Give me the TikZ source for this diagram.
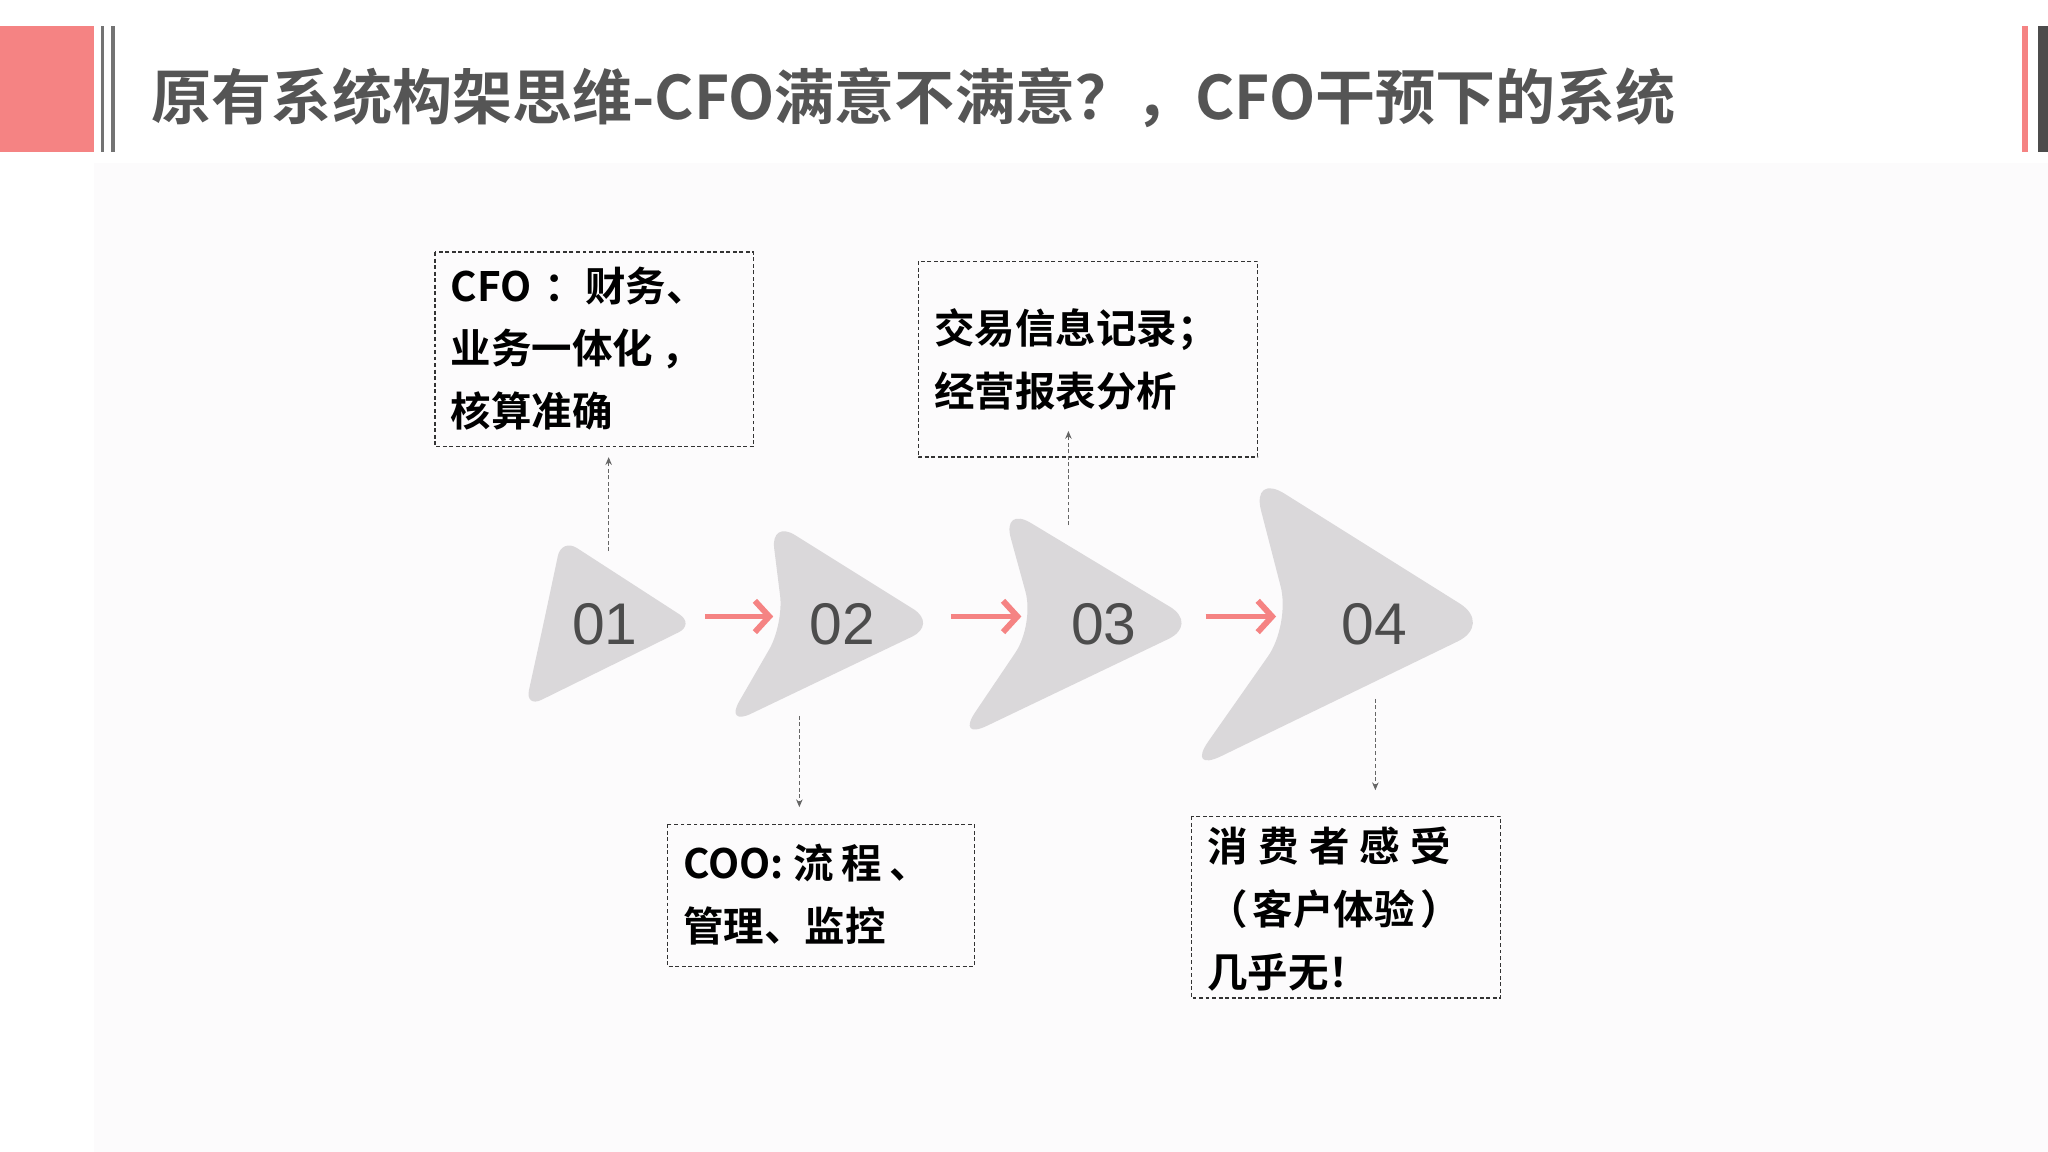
\documentclass[tikz,border=0pt]{standalone}
\usepackage{fontspec}
\setmainfont{Noto Sans CJK SC}[BoldFont={* Bold}]
\newfontfamily\numf{Liberation Sans}
\usetikzlibrary{arrows.meta}
\definecolor{pinkc}{HTML}{F58383}
\definecolor{titlec}{HTML}{555555}
\definecolor{chev}{HTML}{DAD8DA}
\definecolor{bgc}{HTML}{FCFBFC}
\begin{document}
\begin{tikzpicture}[x=1pt,y=-1pt,
  ch/.style={fill=chev,draw=none,rounded corners=14pt},
  num/.style={font=\numf\fontsize{45}{45}\selectfont,text=titlec!90!black},
  box/.style={draw=black!80,dashed,line width=1pt,dash pattern=on 3pt off 2pt},
  bt/.style={font=\bfseries\fontsize{31}{48}\selectfont,anchor=north west,align=left,inner sep=0pt},
  dl/.style={draw=black!60,dashed,line width=0.8pt,dash pattern=on 3pt off 2pt,-{Stealth[length=6pt,width=5pt]}},
  pa/.style={draw=pinkc,line width=4.5pt,-{Straight Barb[length=11pt,width=24pt,line width=4.5pt]}}]
\useasboundingbox (0,0) rectangle (1568,882);
\fill[white] (0,0) rectangle (1568,882);
\fill[bgc] (72,125) rectangle (1568,882);
\fill[pinkc] (0,20) rectangle (72,116);
\fill[black!55] (77,20) rectangle (80,116);
\fill[black!55] (85,20) rectangle (88,116);
\fill[pinkc] (1548,20) rectangle (1553,116);
\fill[black!70] (1560,20) rectangle (1568,116);
\node[anchor=west,inner sep=0pt,text=titlec,font=\bfseries\fontsize{46}{46}\selectfont] (title) at (116,75) {原有系统构架思维-CFO满意不满意？，CFO干预下的系统};
% chevrons
\path[ch] (430,412) -- (532,478) -- (402,542) -- (416,478) -- cycle;
\path[ch,rounded corners=22pt] (590,398) -- (718,478) -- (555,556) -- (600,478) -- cycle;
\path[ch,rounded corners=26pt] (767,387) -- (918,478) -- (732,567) -- (792,478) -- cycle;
\path[ch,rounded corners=30pt] (958,362) -- (1143,478) -- (908,592) -- (988,478) -- cycle;
\node[num] (n1) at (463,478) {01};
\node[num] (n2) at (645,478) {02};
\node[num] (n3) at (845,478) {03};
\node[num] (n4) at (1052,478) {04};
\coordinate (a1s) at (540,472); \coordinate (a1e) at (592,472);
\coordinate (a2s) at (728,472); \coordinate (a2e) at (782,472);
\coordinate (a3s) at (923,472); \coordinate (a3e) at (977,472);
\draw[pa] (a1s) -- (a1e);
\draw[pa] (a2s) -- (a2e);
\draw[pa] (a3s) -- (a3e);
% boxes
\draw[box] (333,193) rectangle (577,342);
\node[bt] (t1) at (345,204) {CFO\hspace{10pt}：财务、\\业务一体化\hspace{6pt}，\\核算准确};
\draw[box] (703,200) rectangle (963,350);
\node[bt] (t2) at (715,236) {交易信息记录；\\经营报表分析};
\draw[box] (511,631) rectangle (746,740);
\node[bt] (t3) at (523,646) {COO: 流\hspace{6pt}程\hspace{6pt}、\\管理、监控};
\draw[box] (912,625) rectangle (1149,764);
\node[bt] (t4) at (924,633) {消\hspace{8pt}费\hspace{8pt}者\hspace{8pt}感\hspace{8pt}受\\（\hspace{4pt}客户体验\hspace{4pt}）\\几乎无！};
\coordinate (d1s) at (466,422); \coordinate (d1e) at (466,350);
\coordinate (d2s) at (818,402); \coordinate (d2e) at (818,330);
\coordinate (d3s) at (612,548); \coordinate (d3e) at (612,618);
\coordinate (d4s) at (1053,535); \coordinate (d4e) at (1053,605);
\draw[dl] (d1s) -- (d1e);
\draw[dl] (d2s) -- (d2e);
\draw[dl] (d3s) -- (d3e);
\draw[dl] (d4s) -- (d4e);
\end{tikzpicture}
\end{document}
